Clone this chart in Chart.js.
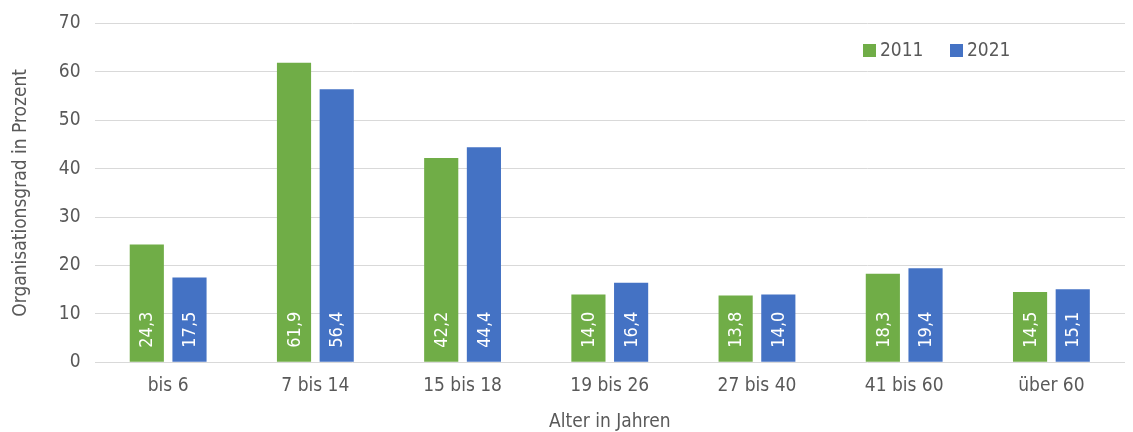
<!DOCTYPE html>
<html>
<head>
<meta charset="utf-8">
<script src="https://cdn.jsdelivr.net/npm/chart.js@4.4.0/dist/chart.umd.min.js"></script>
<style>
html,body{margin:0;padding:0;background:#fff;}
#wrap{width:1133px;height:432px;position:relative;}
</style>
</head>
<body>
<div id="wrap"><canvas id="c" width="1133" height="432"></canvas></div>
<script>
const categories = ["bis 6", "7 bis 14", "15 bis 18", "19 bis 26", "27 bis 40", "41 bis 60", "über 60"];
const values2011 = [24.3, 61.9, 42.2, 14.0, 13.8, 18.3, 14.5];
const values2021 = [17.5, 56.4, 44.4, 16.4, 14.0, 19.4, 15.1];
const seriesLabels = ["2011", "2021"];
const yTitle = "Organisationsgrad in Prozent";
const xTitle = "Alter in Jahren";

const FONT = "'DejaVu Sans Condensed', 'Liberation Sans Narrow', sans-serif";
const GRAY = "#595959";

const fmt = v => v.toFixed(1).replace('.', ',');

const barLabels = {
  id: 'barLabels',
  afterDatasetsDraw(chart) {
    const ctx = chart.ctx;
    ctx.save();
    ctx.fillStyle = '#ffffff';
    ctx.font = "18px " + FONT;
    ctx.textAlign = 'left';
    ctx.textBaseline = 'middle';
    chart.data.datasets.forEach((ds, di) => {
      const meta = chart.getDatasetMeta(di);
      meta.data.forEach((el, i) => {
        ctx.save();
        ctx.translate(el.x + 1, el.base - 14);
        ctx.rotate(-Math.PI / 2);
        ctx.fillText(fmt(ds.data[i]), 0, 0);
        ctx.restore();
      });
    });
    ctx.restore();
  }
};

const innerLegend = {
  id: 'innerLegend',
  afterDraw(chart) {
    const ctx = chart.ctx;
    ctx.save();
    ctx.font = "19px " + FONT;
    ctx.textBaseline = 'middle';
    ctx.textAlign = 'left';
    const xs = [863, 950];
    const y = 50;
    chart.data.datasets.forEach((ds, di) => {
      ctx.fillStyle = ds.backgroundColor;
      ctx.fillRect(xs[di], y - 6, 13, 13);
      ctx.fillStyle = GRAY;
      ctx.fillText(ds.label, xs[di] + 17, y + 1);
    });
    ctx.restore();
  }
};

new Chart(document.getElementById('c'), {
  type: 'bar',
  data: {
    labels: categories,
    datasets: [
      { label: seriesLabels[0], data: values2011, backgroundColor: '#70AD47' },
      { label: seriesLabels[1], data: values2021, backgroundColor: '#4472C4' }
    ]
  },
  options: {
    responsive: false,
    animation: false,
    devicePixelRatio: 1,
    layout: { padding: { left: 10, right: 8, top: 7, bottom: 0 } },
    categoryPercentage: 0.58,
    barPercentage: 0.8,
    plugins: {
      legend: { display: false },
      tooltip: { enabled: false }
    },
    scales: {
      x: {
        grid: { display: false, drawTicks: false },
        border: { display: false },
        ticks: { color: GRAY, font: { family: FONT, size: 19 }, padding: 12 },
        title: { display: true, text: xTitle, color: GRAY, font: { family: FONT, size: 19, lineHeight: 1 }, padding: { top: 4, bottom: 0 } }
      },
      y: {
        min: 0, max: 70,
        ticks: { stepSize: 10, color: GRAY, font: { family: FONT, size: 19, lineHeight: 1 }, padding: 14 },
        grid: { color: '#d9d9d9', lineWidth: 1, drawTicks: false },
        border: { display: false },
        title: { display: true, text: yTitle, color: GRAY, font: { family: FONT, size: 19 }, padding: { top: 0, bottom: 12 } }
      }
    }
  },
  plugins: [barLabels, innerLegend]
});
</script>
</body>
</html>
